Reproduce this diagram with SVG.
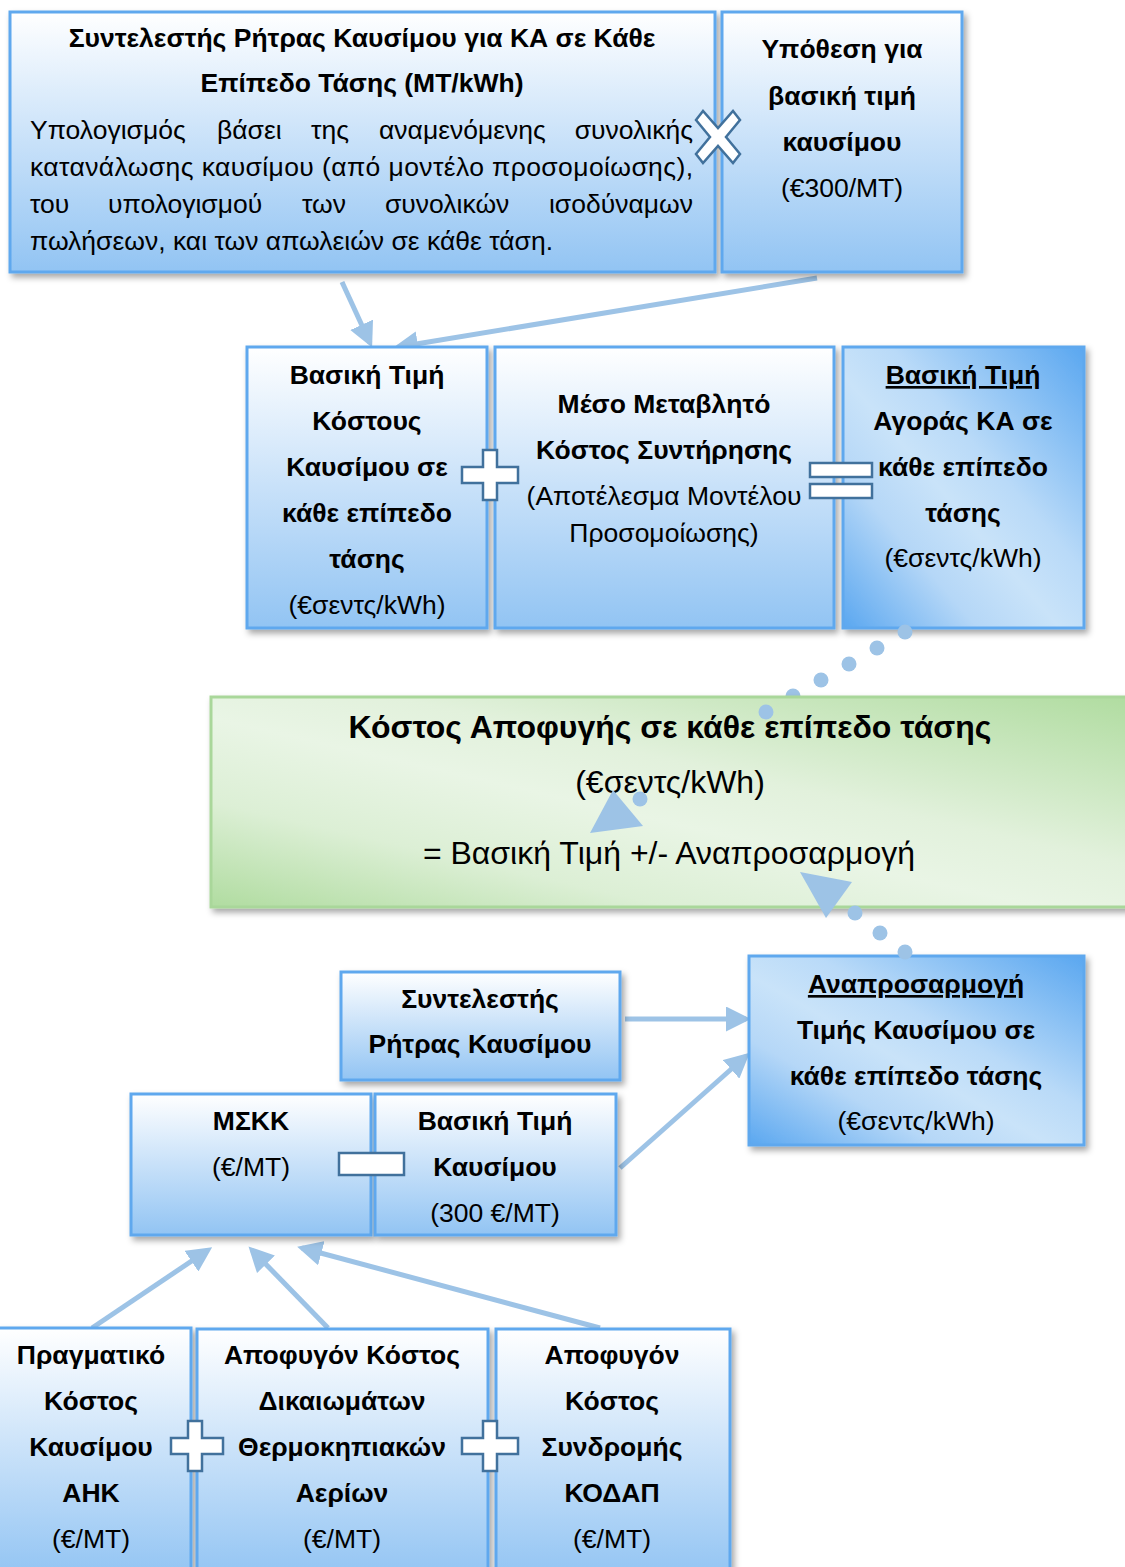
<svg xmlns="http://www.w3.org/2000/svg" width="1125" height="1567" viewBox="0 0 1125 1567">
<defs>
<linearGradient id="gv" x1="0" y1="0" x2="0" y2="1">
<stop offset="0" stop-color="#ffffff"/>
<stop offset="0.5" stop-color="#c8e1f9"/>
<stop offset="1" stop-color="#92c4f3"/>
</linearGradient>
<linearGradient id="gd" x1="1" y1="0" x2="0" y2="1">
<stop offset="0" stop-color="#5aa7f0"/>
<stop offset="0.4" stop-color="#b9daf8"/>
<stop offset="0.55" stop-color="#c9e3f9"/>
<stop offset="0.72" stop-color="#b5d7f7"/>
<stop offset="1" stop-color="#5aa7f0"/>
</linearGradient>
<linearGradient id="gg" x1="1" y1="0" x2="0" y2="1">
<stop offset="0" stop-color="#b0dca0"/>
<stop offset="0.4" stop-color="#e2f1dc"/>
<stop offset="0.55" stop-color="#e9f5e5"/>
<stop offset="0.75" stop-color="#dcefd5"/>
<stop offset="1" stop-color="#b0dca0"/>
</linearGradient>
<filter id="sh" x="-10%" y="-10%" width="125%" height="130%">
<feDropShadow dx="3" dy="4" stdDeviation="3" flood-color="#000" flood-opacity="0.35"/>
</filter>
<marker id="ah" markerWidth="5" markerHeight="5" refX="4" refY="2.5" orient="auto" markerUnits="strokeWidth">
<path d="M0,0 L5,2.5 L0,5 Z" fill="#9dc3e6"/>
</marker>
<style>
.bx{fill:url(#gv);stroke:#5ea8ee;stroke-width:3;filter:url(#sh)}
.bd{fill:url(#gd);stroke:#5ea8ee;stroke-width:3;filter:url(#sh)}
.bg{fill:url(#gg);stroke:#a9d79a;stroke-width:3;filter:url(#sh)}
.op{fill:#ffffff;stroke:#41719c;stroke-width:2.5}
.c{stroke:#9dc3e6;stroke-width:5;fill:none;marker-end:url(#ah)}
.dot{fill:#9dc3e6}
text{font-family:"Liberation Sans",Arial,sans-serif;fill:#000;font-size:26.5px}
.b{font-weight:bold}
.m{text-anchor:middle}
.u{text-decoration:underline}
.gt{font-size:32px}
</style>
</defs>

<g id="connectors">
<line class="c" x1="342" y1="282" x2="370" y2="343"/>
<line class="c" x1="817" y1="278" x2="398" y2="347"/>
<line class="c" x1="625" y1="1019" x2="746" y2="1019"/>
<line class="c" x1="620" y1="1168" x2="746" y2="1056"/>
<line class="c" x1="92" y1="1328" x2="208" y2="1250"/>
<line class="c" x1="328" y1="1328" x2="252" y2="1250"/>
<line class="c" x1="600" y1="1328" x2="302" y2="1248"/>
</g>

<g id="n1">
<rect class="bx" x="10" y="12" width="705" height="260"/>
<text class="b m" x="362" y="47">Συντελεστής Ρήτρας Καυσίμου για ΚΑ σε Κάθε</text>
<text class="b m" x="362" y="92">Επίπεδο Τάσης (ΜΤ/kWh)</text>
<text x="30" y="139">Υπολογισμός</text>
<text x="217" y="139">βάσει</text>
<text x="311" y="139">της</text>
<text x="379" y="139">αναμενόμενης</text>
<text x="693" y="139" text-anchor="end">συνολικής</text>
<text x="30" y="176" textLength="663" lengthAdjust="spacing">κατανάλωσης καυσίμου (από μοντέλο προσομοίωσης),</text>
<text x="30" y="213">του</text>
<text x="108" y="213">υπολογισμού</text>
<text x="302" y="213">των</text>
<text x="385" y="213">συνολικών</text>
<text x="693" y="213" text-anchor="end">ισοδύναμων</text>
<text x="30" y="250">πωλήσεων, και των απωλειών σε κάθε τάση.</text>
</g>

<g id="n2">
<rect class="bx" x="722" y="12" width="240" height="260"/>
<text class="b m" x="842" y="58">Υπόθεση για</text>
<text class="b m" x="842" y="105">βασική τιμή</text>
<text class="b m" x="842" y="151">καυσίμου</text>
<text class="m" x="842" y="197">(€300/ΜΤ)</text>
</g>

<g id="op-x">
<polygon class="op" points="696,120 703,111 718,128 733,111 740,120 726,137 740,154 733,163 718,146 703,163 696,154 710,137"/>
</g>

<g id="n3">
<rect class="bx" x="247" y="347" width="240" height="281"/>
<text class="b m" x="367" y="384">Βασική Τιμή</text>
<text class="b m" x="367" y="430">Κόστους</text>
<text class="b m" x="367" y="476">Καυσίμου σε</text>
<text class="b m" x="367" y="522">κάθε επίπεδο</text>
<text class="b m" x="367" y="568">τάσης</text>
<text class="m" x="367" y="614">(€σεντς/kWh)</text>
</g>

<g id="n4">
<rect class="bx" x="495" y="347" width="339" height="281"/>
<text class="b m" x="664" y="413">Μέσο Μεταβλητό</text>
<text class="b m" x="664" y="459">Κόστος Συντήρησης</text>
<text class="m" x="664" y="505">(Αποτέλεσμα Μοντέλου</text>
<text class="m" x="664" y="542">Προσομοίωσης)</text>
</g>

<g id="n5">
<rect class="bd" x="843" y="347" width="241" height="281"/>
<text class="b m u" x="963" y="384">Βασική Τιμή</text>
<text class="b m" x="963" y="430">Αγοράς ΚΑ σε</text>
<text class="b m" x="963" y="476">κάθε επίπεδο</text>
<text class="b m" x="963" y="522">τάσης</text>
<text class="m" x="963" y="567">(€σεντς/kWh)</text>
</g>

<g id="op-plus1">
<polygon class="op" points="483,450 497,450 497,467 518,467 518,483 497,483 497,500 483,500 483,483 462,483 462,467 483,467"/>
</g>
<g id="op-eq">
<rect class="op" x="810" y="463" width="62" height="14"/>
<rect class="op" x="810" y="484" width="62" height="14"/>
</g>

<g id="dots-top">
<circle class="dot" cx="905" cy="632" r="7.5"/>
<circle class="dot" cx="877" cy="648" r="7.5"/>
<circle class="dot" cx="849" cy="664" r="7.5"/>
<circle class="dot" cx="821" cy="680" r="7.5"/>
<circle class="dot" cx="793" cy="696" r="7.5"/>
</g>

<g id="n6">
<rect class="bg" x="211" y="697" width="920" height="210"/>
<text class="b m gt" x="670" y="738">Κόστος Αποφυγής σε κάθε επίπεδο τάσης</text>
<text class="m gt" x="670" y="793">(€σεντς/kWh)</text>
<text class="m gt" x="669" y="864">= Βασική Τιμή +/- Αναπροσαρμογή</text>
</g>

<g id="dots-mid">
<circle class="dot" cx="766" cy="712" r="7.5"/>
<circle class="dot" cx="640" cy="799" r="7.5"/>
<polygon class="dot" points="613,790 590,833 643,826"/>
<polygon class="dot" points="800,872 852,882 826,918"/>
<circle class="dot" cx="855" cy="913" r="7.5"/>
<circle class="dot" cx="880" cy="933" r="7.5"/>
</g>

<g id="n7">
<rect class="bx" x="341" y="972" width="279" height="108"/>
<text class="b m" x="480" y="1008">Συντελεστής</text>
<text class="b m" x="480" y="1053">Ρήτρας Καυσίμου</text>
</g>

<g id="n8">
<rect class="bd" x="749" y="956" width="335" height="189"/>
<text class="b m u" x="916" y="993">Αναπροσαρμογή</text>
<text class="b m" x="916" y="1039">Τιμής Καυσίμου σε</text>
<text class="b m" x="916" y="1085">κάθε επίπεδο τάσης</text>
<text class="m" x="916" y="1130">(€σεντς/kWh)</text>
</g>
<circle class="dot" cx="905" cy="952" r="7.5"/>

<g id="n9">
<rect class="bx" x="131" y="1094" width="240" height="141"/>
<text class="b m" x="251" y="1130">ΜΣΚΚ</text>
<text class="m" x="251" y="1176">(€/ΜΤ)</text>
</g>

<g id="n10">
<rect class="bx" x="375" y="1094" width="241" height="141"/>
<text class="b m" x="495" y="1130">Βασική Τιμή</text>
<text class="b m" x="495" y="1176">Καυσίμου</text>
<text class="m" x="495" y="1222">(300 €/ΜΤ)</text>
</g>

<g id="op-minus">
<rect class="op" x="339" y="1153" width="65" height="22"/>
</g>

<g id="n11">
<rect class="bx" x="-2" y="1328" width="193" height="250"/>
<text class="b m" x="91" y="1364">Πραγματικό</text>
<text class="b m" x="91" y="1410">Κόστος</text>
<text class="b m" x="91" y="1456">Καυσίμου</text>
<text class="b m" x="91" y="1502">ΑΗΚ</text>
<text class="m" x="91" y="1548">(€/ΜΤ)</text>
</g>

<g id="n12">
<rect class="bx" x="197" y="1329" width="291" height="250"/>
<text class="b m" x="342" y="1364">Αποφυγόν Κόστος</text>
<text class="b m" x="342" y="1410">Δικαιωμάτων</text>
<text class="b m" x="342" y="1456">Θερμοκηπιακών</text>
<text class="b m" x="342" y="1502">Αερίων</text>
<text class="m" x="342" y="1548">(€/ΜΤ)</text>
</g>

<g id="n13">
<rect class="bx" x="496" y="1329" width="234" height="250"/>
<text class="b m" x="612" y="1364">Αποφυγόν</text>
<text class="b m" x="612" y="1410">Κόστος</text>
<text class="b m" x="612" y="1456">Συνδρομής</text>
<text class="b m" x="612" y="1502">ΚΟΔΑΠ</text>
<text class="m" x="612" y="1548">(€/ΜΤ)</text>
</g>

<g id="op-plus2">
<polygon class="op" points="188,1421 202,1421 202,1438 223,1438 223,1454 202,1454 202,1471 188,1471 188,1454 171,1454 171,1438 188,1438"/>
</g>
<g id="op-plus3">
<polygon class="op" points="483,1421 497,1421 497,1438 518,1438 518,1454 497,1454 497,1471 483,1471 483,1454 462,1454 462,1438 483,1438"/>
</g>
</svg>
